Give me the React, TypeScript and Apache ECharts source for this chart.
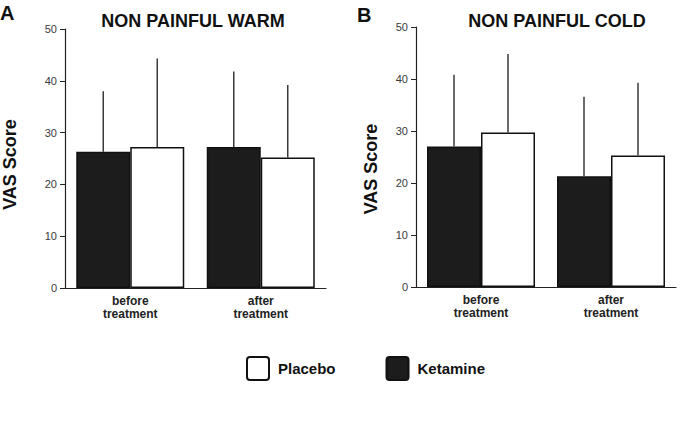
import React, { useEffect, useRef } from "react";
import * as echarts from "echarts";

const categories = ["before\ntreatment", "after\ntreatment"];
const warmKetamine = [26.3, 27.2];
const warmKetamineSD = [11.7, 14.6];
const warmPlacebo = [27.2, 25.2];
const warmPlaceboSD = [17.1, 14.0];
const coldKetamine = [27.0, 21.3];
const coldKetamineSD = [13.8, 15.3];
const coldPlacebo = [29.7, 25.3];
const coldPlaceboSD = [15.1, 14.0];
const yTicks = { min: 0, max: 50, interval: 10 };

const BAR_W = 54;
const FONT = "Liberation Sans, Arial, sans-serif";
const BOX_ICON = "path://M3,0 H19 A3,3 0 0 1 22,3 V20 A3,3 0 0 1 19,23 H3 A3,3 0 0 1 0,20 V3 A3,3 0 0 1 3,0 Z";

function errSeries(grid: number, means: number[], sds: number[], side: number) {
  return {
    type: "custom",
    name: "err",
    xAxisIndex: grid,
    yAxisIndex: grid,
    z: 5,
    data: means.map((m, i) => [i, m, sds[i]]),
    renderItem: (params: any, api: any) => {
      const p = api.coord([api.value(0), api.value(1)]);
      const t = api.coord([api.value(0), api.value(1) + api.value(2)]);
      const x = p[0] + (side * BAR_W) / 2;
      return {
        type: "line",
        shape: { x1: x, y1: p[1], x2: x, y2: t[1] },
        style: { stroke: "#3a3a3a", lineWidth: 1.5 },
      };
    },
  };
}

function barSeries(grid: number, name: string, data: number[]) {
  const dark = name === "Ketamine";
  return {
    type: "bar",
    name,
    xAxisIndex: grid,
    yAxisIndex: grid,
    data,
    barWidth: BAR_W,
    barGap: "0%",
    itemStyle: {
      color: dark ? "#1c1c1c" : "#ffffff",
      borderColor: "#111",
      borderWidth: 1.5,
    },
  };
}

export default function App() {
  const ref = useRef<HTMLDivElement>(null);
  useEffect(() => {
    document.body.style.margin = "0";
    const chart = echarts.init(ref.current!, null, { renderer: "svg" });
    const yAxisBase = (padRight: number, gap: number) => ({
      type: "value",
      min: yTicks.min,
      max: yTicks.max,
      interval: yTicks.interval,
      splitLine: { show: false },
      axisLine: { show: true, lineStyle: { color: "#222", width: 1.2 } },
      axisTick: { show: true, length: 5, lineStyle: { color: "#222" } },
      axisLabel: { color: "#3a3a3a", fontSize: 11, fontFamily: FONT, margin: 8 },
      name: "VAS Score",
      nameLocation: "middle",
      nameRotate: 90,
      nameGap: gap,
      nameTextStyle: {
        fontSize: 18,
        fontWeight: "bold",
        color: "#111",
        fontFamily: FONT,
        padding: [0, padRight, 0, 0],
      },
    });
    const xAxisBase = (grid: number) => ({
      type: "category",
      gridIndex: grid,
      data: categories,
      axisLine: { show: true, lineStyle: { color: "#222", width: 1.2 } },
      axisTick: { show: false },
      axisLabel: {
        color: "#222",
        fontSize: 12,
        fontWeight: "bold",
        fontFamily: FONT,
        lineHeight: 13,
        margin: 6,
      },
    });
    const titleStyle = { fontSize: 18, fontWeight: "bold", color: "#111", fontFamily: FONT };
    const letterStyle = { fontSize: 20, fontWeight: "bold", color: "#111", fontFamily: FONT };
    chart.setOption({
      animation: false,
      title: [
        { text: "NON PAINFUL WARM", left: 193, top: 12, padding: 0, textAlign: "center", textStyle: titleStyle },
        { text: "NON PAINFUL COLD", left: 557, top: 12, padding: 0, textAlign: "center", textStyle: titleStyle },
        { text: "A", left: 0, top: 3, padding: 0, textStyle: letterStyle },
        { text: "B", left: 357, top: 5, padding: 0, textStyle: letterStyle },
      ],
      legend: {
        data: ["Placebo", "Ketamine"],
        left: 246,
        top: 356,
        padding: 0,
        icon: BOX_ICON,
        itemWidth: 22,
        itemHeight: 23,
        itemGap: 50,
        itemStyle: { borderWidth: 2, borderColor: "#111" },
        textStyle: { fontSize: 15, fontWeight: "bold", color: "#111", fontFamily: FONT, padding: [0, 0, 0, 4] },
        selectedMode: false,
      },
      grid: [
        { left: 65, top: 29, width: 261, height: 259 },
        { left: 416, top: 27, width: 260, height: 260 },
      ],
      xAxis: [xAxisBase(0), xAxisBase(1)],
      yAxis: [
        { ...yAxisBase(12, 46), gridIndex: 0 },
        { ...yAxisBase(24, 36), gridIndex: 1 },
      ],
      series: [
        barSeries(0, "Ketamine", warmKetamine),
        barSeries(0, "Placebo", warmPlacebo),
        errSeries(0, warmKetamine, warmKetamineSD, -1),
        errSeries(0, warmPlacebo, warmPlaceboSD, 1),
        barSeries(1, "Ketamine", coldKetamine),
        barSeries(1, "Placebo", coldPlacebo),
        errSeries(1, coldKetamine, coldKetamineSD, -1),
        errSeries(1, coldPlacebo, coldPlaceboSD, 1),
      ],
    });
    return () => chart.dispose();
  }, []);
  return <div ref={ref} style={{ width: 685, height: 440 }} />;
}
